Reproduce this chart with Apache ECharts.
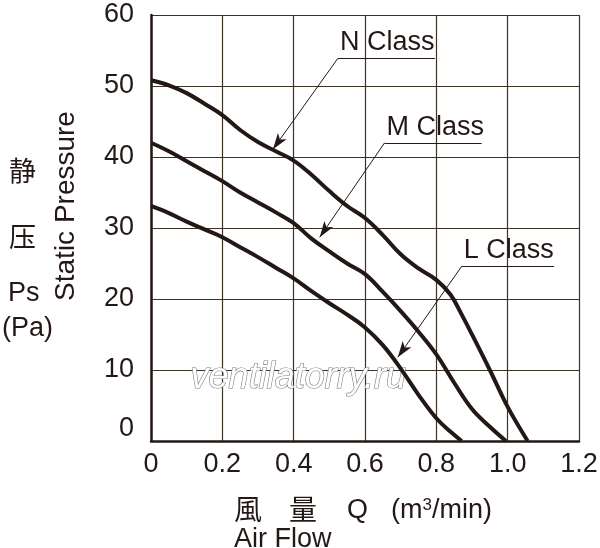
<!DOCTYPE html>
<html>
<head>
<meta charset="utf-8">
<script src="https://cdn.jsdelivr.net/npm/echarts@6/dist/echarts.min.js"></script>
<style>
  html, body { margin: 0; padding: 0; background: #fff; }
  #main { width: 600px; height: 548px; }
</style>
</head>
<body>
<div id="main"></div>
<script>
// air flow Q (m3/min) vs static pressure Ps (Pa)
const nClass = [[0, 50.8], [0.05, 50.1], [0.1, 49.0], [0.15, 47.5], [0.2, 45.9], [0.25, 43.8],
    [0.3, 42.1], [0.35, 40.8], [0.4, 39.5], [0.45, 37.5], [0.5, 35.2], [0.55, 33.1],
    [0.6, 31.4], [0.65, 29.0], [0.7, 26.3], [0.75, 24.3], [0.8, 22.7], [0.84, 20.6],
    [0.87, 17.9], [0.9, 15.0], [0.95, 10.0], [1.0, 4.8], [1.056, 0]];
const mClass = [[0, 42.0], [0.05, 40.8], [0.1, 39.4], [0.15, 38.0], [0.2, 36.6], [0.25, 35.0],
    [0.3, 33.6], [0.35, 32.2], [0.4, 30.7], [0.45, 28.5], [0.5, 26.7], [0.55, 25.0],
    [0.6, 23.5], [0.65, 21.0], [0.7, 18.3], [0.75, 15.4], [0.8, 12.2], [0.85, 8.2],
    [0.9, 4.5], [0.95, 2.0], [0.995, 0]];
const lClass = [[0, 33.1], [0.05, 32.1], [0.1, 30.9], [0.15, 29.8], [0.2, 28.7], [0.25, 27.3],
    [0.3, 25.9], [0.35, 24.4], [0.4, 22.9], [0.45, 21.1], [0.5, 19.4], [0.55, 17.8],
    [0.6, 16.0], [0.65, 13.5], [0.7, 10.2], [0.75, 6.5], [0.8, 3.2], [0.84, 1.3], [0.871, 0]];

const seriesNames = ['N Class', 'M Class', 'L Class'];
// leader lines: [label corner, arrow tip, end of underline]
const nLeader = [[0.524, 53.9], [0.342, 41.1], [0.796, 53.9]];
const mLeader = [[0.655, 42.0], [0.473, 28.7], [0.927, 42.0]];
const lLeader = [[0.871, 24.6], [0.692, 11.8], [1.13, 24.6]];

const xTicks = ['0', '0.2', '0.4', '0.6', '0.8', '1.0', '1.2'];

const ink = '#231815';
const gridInk = '#3d3226';
const font = '"Liberation Sans", Arial, sans-serif';

function leader(pts, name) {
    return {
        silent: true,
        animation: false,
        symbolSize: [8, 16],
        lineStyle: { color: ink, width: 1, type: 'solid' },
        data: [
            [{ coord: pts[0], symbol: 'none', label: { show: false } },
             { coord: pts[1], symbol: 'arrow' }],
            [{ coord: pts[0], symbol: 'none',
               label: {
                   show: true, position: 'insideStartTop', formatter: name,
                   color: ink, fontSize: 27, fontFamily: font, distance: 2
               } },
             { coord: pts[2], symbol: 'none' }]
        ]
    };
}

function curve(name, data, pts) {
    return {
        name: name,
        type: 'line',
        data: data,
        smooth: 0.4,
        showSymbol: false,
        z: 3,
        lineStyle: { color: ink, width: 4 },
        markLine: leader(pts, name)
    };
}

const chart = echarts.init(document.getElementById('main'), null, { renderer: 'canvas' });

chart.setOption({
    animation: false,
    backgroundColor: '#fff',
    grid: { left: 151, right: 21, top: 15, bottom: 107, containLabel: false, outerBoundsMode: 'none' },
    xAxis: {
        type: 'value', min: 0, max: 1.2, interval: 0.2,
        axisLine: { onZero: false, lineStyle: { color: ink, width: 2.5 } },
        axisTick: { show: false },
        axisLabel: {
            color: ink, fontSize: 27, fontFamily: font, margin: 10,
            formatter: function (v) { return xTicks[Math.round(v / 0.2)]; }
        },
        splitLine: { show: true, lineStyle: { color: gridInk, width: 1.2 } }
    },
    yAxis: {
        type: 'value', min: 0, max: 60, interval: 10,
        axisLine: { show: true, onZero: false, lineStyle: { color: ink, width: 2.5 } },
        axisTick: { show: false },
        axisLabel: {
            color: ink, fontSize: 27, fontFamily: font, margin: 17,
            formatter: function (v) { return v === 0 ? '{z|0}' : String(v); },
            rich: { z: { color: ink, fontSize: 27, fontFamily: font, padding: [0, 0, 24, 0] } }
        },
        splitLine: { show: true, lineStyle: { color: gridInk, width: 1.2 } }
    },
    graphic: [
        { type: 'text', left: 190, top: 359, z: 1, silent: true,
          style: { text: 'ventilatorry.ru', font: 'italic 36px ' + font, fill: '#fff', stroke: '#7d7d7d', lineWidth: 1.2 } },
        { type: 'text', left: 9, top: 157, style: { text: '静', font: '27px "Noto Sans CJK JP"', fill: ink } },
        { type: 'text', left: 9, top: 223, style: { text: '压', font: '27px "Noto Sans CJK JP"', fill: ink } },
        { type: 'text', left: 8, top: 280, style: { text: 'Ps', font: '27px ' + font, fill: ink } },
        { type: 'text', left: 2, top: 315, style: { text: '(Pa)', font: '27px ' + font, fill: ink } },
        { type: 'text', x: 66, y: 206, rotation: Math.PI / 2,
          style: { text: 'Static Pressure', font: '28px ' + font, fill: ink, align: 'center', verticalAlign: 'middle' } },
        { type: 'text', left: 234, top: 495, style: { text: '風', font: '28px "Noto Sans CJK JP"', fill: ink } },
        { type: 'text', left: 289, top: 495, style: { text: '量', font: '28px "Noto Sans CJK JP"', fill: ink } },
        { type: 'text', left: 347, top: 497, style: { text: 'Q', font: '27px ' + font, fill: ink } },
        { type: 'text', left: 391, top: 497, style: {
            text: '(m{s|3}/min)', font: '27px ' + font, fill: ink,
            rich: { s: { fontSize: 17, fontFamily: font, fill: ink, verticalAlign: 'top', padding: [0, 0, 10, 0] } }
        } },
        { type: 'text', left: 234, top: 526, style: { text: 'Air Flow', font: '27px ' + font, fill: ink } }
    ],
    series: [
        curve(seriesNames[0], nClass, nLeader),
        curve(seriesNames[1], mClass, mLeader),
        curve(seriesNames[2], lClass, lLeader)
    ]
});
</script>
</body>
</html>
